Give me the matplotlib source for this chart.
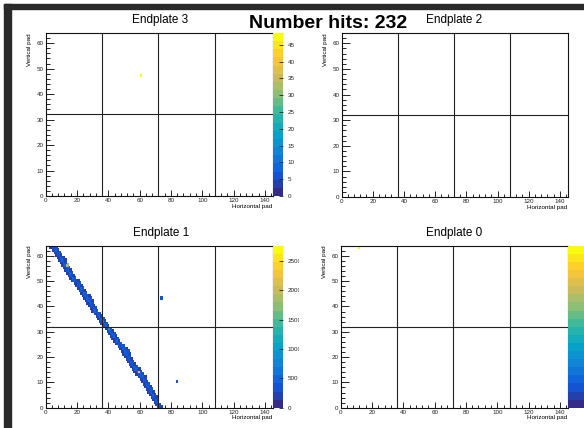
import numpy as np
import matplotlib
matplotlib.use('Agg')
from matplotlib import pyplot as plt
from matplotlib.colors import LinearSegmentedColormap, Normalize
from matplotlib.patches import Rectangle
from matplotlib.ticker import MultipleLocator
from matplotlib.transforms import Bbox, TransformedBbox

plt.rcParams['font.family'] = ['Liberation Sans', 'DejaVu Sans']

W, H = 584, 428

# ---- data ----
total_hits = 232
n_x, n_y = 145, 64           # horizontal / vertical pads
sector_x = [36, 72, 108]     # sector boundaries
sector_y = [32]

# endplate 3: one hit
ep3_x = [60]
ep3_y = [47]
ep3_q = [48]
ep3_zmax = 48.5

# endplate 0: one hit
ep0_x = [11]
ep0_y = [63]
ep0_q = [6.2]
ep0_zmax = 6.3

# endplate 2: no hits

# endplate 1: the track, one row per vertical pad (first pad + charges)
track_start = [71, 70, 69, 68, 67, 66, 65, 64, 63, 62, 61, 60, 59, 57, 56, 55,
               54, 53, 52, 51, 50, 49, 48, 47, 46, 44, 43, 42, 41, 40, 39, 38,
               36, 35, 34, 33, 32, 31, 29, 28, 27, 26, 25, 24, 23, 22, 21, 20,
               19, 18, 16, 15, 14, 13, 12, 11, 10, 9, 8, 7, 6, 5, 4, 2]
track_q = [
    [200, 300, 250], [150, 350, 300], [200, 300, 400], [150, 250, 450, 200],
    [200, 300, 400, 250], [150, 200, 450, 300], [200, 300, 500, 200], [150, 250, 400, 300],
    [200, 300, 450, 250], [150, 200, 500, 300], [200, 300, 400, 250], [150, 250, 500, 300],
    [200, 300, 450, 350, 200], [150, 250, 400, 500, 300], [200, 200, 450, 2300, 350], [150, 300, 500, 400, 250],
    [200, 250, 450, 300], [150, 300, 400, 250], [200, 200, 500, 300], [150, 300, 450, 250],
    [200, 250, 400, 300], [150, 300, 500, 350, 200], [200, 200, 450, 400, 300], [150, 250, 500, 350, 250],
    [200, 300, 400, 300], [150, 250, 450, 300], [200, 300, 500, 250], [150, 200, 400, 300],
    [200, 300, 450, 250], [150, 250, 500, 300], [200, 300, 450, 250], [150, 250, 900, 300],
    [200, 300, 500, 250], [150, 250, 450, 300], [200, 300, 800, 250], [150, 250, 450, 300],
    [200, 300, 500, 250], [150, 200, 400, 300], [200, 300, 450, 350], [150, 250, 500, 300],
    [200, 300, 400, 250], [150, 250, 450, 300], [200, 300, 500, 400, 200], [150, 250, 450, 350, 300],
    [200, 300, 500, 400, 250], [150, 200, 450, 300], [200, 300, 400, 250], [150, 250, 500, 300],
    [200, 300, 450, 250], [150, 250, 400, 300], [200, 300, 500, 350, 250], [150, 250, 450, 300],
    [200, 300, 400, 250], [150, 200, 500, 300], [200, 300, 450, 250], [150, 250, 400, 300],
    [200, 300, 450, 1900], [150, 250, 500, 300], [200, 300, 450, 350, 200], [150, 250, 500, 300, 250],
    [200, 300, 400, 250], [150, 250, 450, 300], [200, 300, 500, 250], [150, 250, 400, 350, 300],
]
ep1_extra_x = [73, 83]
ep1_extra_y = [43, 10]
ep1_extra_q = [350, 300]
ep1_zmax = 2760

# ROOT kBird palette, 20 contours
stops = [0.0, 0.125, 0.25, 0.375, 0.5, 0.625, 0.75, 0.875, 1.0]
red = [0.2082, 0.0592, 0.0780, 0.0232, 0.1802, 0.5301, 0.8186, 0.9956, 0.9764]
green = [0.1664, 0.3599, 0.5041, 0.6419, 0.7178, 0.7492, 0.7328, 0.7862, 0.9832]
blue = [0.5293, 0.8684, 0.8385, 0.7914, 0.6425, 0.4662, 0.3499, 0.1968, 0.0539]
bird = LinearSegmentedColormap.from_list(
    'bird', list(zip(stops, zip(red, green, blue))), N=20)


def px_rect(x0, y0, x1, y1):
    return [x0 / W, 1 - y1 / H, (x1 - x0) / W, (y1 - y0) / H]


def hist2d(xs, ys, qs):
    h = np.zeros((n_y, n_x))
    for x, y, q in zip(xs, ys, qs):
        h[y, x] += q
    return np.ma.masked_equal(h, 0)


def draw_hist(ax, h, zmax):
    return ax.pcolormesh(np.arange(n_x + 1), np.arange(n_y + 1), h, cmap=bird,
                         norm=Normalize(0, zmax), edgecolors='face', linewidth=0.6)


def pad_axes(rect):
    ax = fig.add_axes(px_rect(*rect))
    ax.set_xlim(0, n_x)
    ax.set_ylim(0, n_y)
    ax.xaxis.set_major_locator(MultipleLocator(20))
    ax.xaxis.set_minor_locator(MultipleLocator(4))
    ax.yaxis.set_major_locator(MultipleLocator(10))
    ax.yaxis.set_minor_locator(MultipleLocator(2))
    ax.tick_params(which='both', direction='in', top=False, right=False,
                   labelsize=4.5, width=0.7, pad=1.5, colors='#222222')
    ax.tick_params(axis='x', which='major', length=4.5)
    ax.tick_params(axis='x', which='minor', length=2.3)
    ax.tick_params(axis='y', which='major', length=6)
    ax.tick_params(axis='y', which='minor', length=3)
    for s in ax.spines.values():
        s.set_linewidth(0.8)
        s.set_color('#111111')
        s.set_zorder(4)
    for v in sector_x:
        ax.axvline(v, color='#222222', lw=0.8, zorder=3)
    for v in sector_y:
        ax.axhline(v, color='#222222', lw=0.8, zorder=3)
    ax.set_xlabel('Horizontal pad', fontsize=4.5, loc='right', labelpad=0.5)
    ax.set_ylabel('Vertical pad', fontsize=4.5, loc='top', labelpad=3)
    return ax


def palette(mesh, rect, ticks, clip_x=None, labels=True):
    cax = fig.add_axes(px_rect(*rect))
    cb = fig.colorbar(mesh, cax=cax)
    cb.outline.set_visible(False)
    cb.set_ticks(ticks)
    cax.tick_params(direction='in', length=2.7, width=0.6, labelsize=4.5,
                    pad=3.5, colors='#222222')
    if not labels:
        cax.set_yticklabels([])
    if clip_x is not None:
        # the ROOT pad cuts these labels at its right edge
        box = TransformedBbox(Bbox([[0, 0], [clip_x / W, 1]]), fig.transFigure)
        for lbl in cax.get_yticklabels():
            lbl.set_clip_on(True)
            lbl.set_clip_box(box)
    return cb


fig = plt.figure(figsize=(W / 100, H / 100), dpi=100)

# window frame of the screenshot
fig.patches.append(Rectangle((4 / W, 0), 7 / W, 1 - 4 / H, transform=fig.transFigure,
                             color='#2a2a2a', zorder=0))
fig.patches.append(Rectangle((4 / W, 1 - 9 / H), 1, 5 / H, transform=fig.transFigure,
                             color='#2a2a2a', zorder=0))

# endplate 3
ax3 = pad_axes((45.7, 33, 272.7, 196))
m3 = draw_hist(ax3, hist2d(ep3_x, ep3_y, ep3_q), ep3_zmax)
palette(m3, (273, 33, 283, 196), range(0, 50, 5))
fig.text(160 / W, 1 - 20 / H, 'Endplate 3', ha='center', va='center', fontsize=8.5)

# endplate 2
ax2 = pad_axes((341.5, 33, 567.7, 197))
fig.text(454 / W, 1 - 20 / H, 'Endplate 2', ha='center', va='center', fontsize=8.5)

# endplate 1
xs, ys, qs = [], [], []
for row, (x0, q_row) in enumerate(zip(track_start, track_q)):
    for k, q in enumerate(q_row):
        xs.append(x0 + k)
        ys.append(row)
        qs.append(q)
xs += ep1_extra_x
ys += ep1_extra_y
qs += ep1_extra_q
ax1 = pad_axes((45.7, 245.7, 272.7, 407.7))
m1 = draw_hist(ax1, hist2d(xs, ys, qs), ep1_zmax)
palette(m1, (273, 245.7, 283, 407.7), range(0, 2600, 500), clip_x=298.5)
fig.text(160.7 / W, 1 - 233 / H, 'Endplate 1', ha='center', va='center', fontsize=8.5)

# endplate 0 (its palette labels fall outside the screenshot)
ax0 = pad_axes((340.7, 245.7, 567.7, 407.7))
m0 = draw_hist(ax0, hist2d(ep0_x, ep0_y, ep0_q), ep0_zmax)
palette(m0, (568, 245.7, 590, 407.7), range(1, 7), labels=False)
fig.text(454 / W, 1 - 233 / H, 'Endplate 0', ha='center', va='center', fontsize=8.5)

fig.text(328 / W, 1 - 23.5 / H, 'Number hits: %d' % total_hits, ha='center', va='center',
         fontsize=14, fontweight='bold')

plt.savefig('out.png', dpi=100)
